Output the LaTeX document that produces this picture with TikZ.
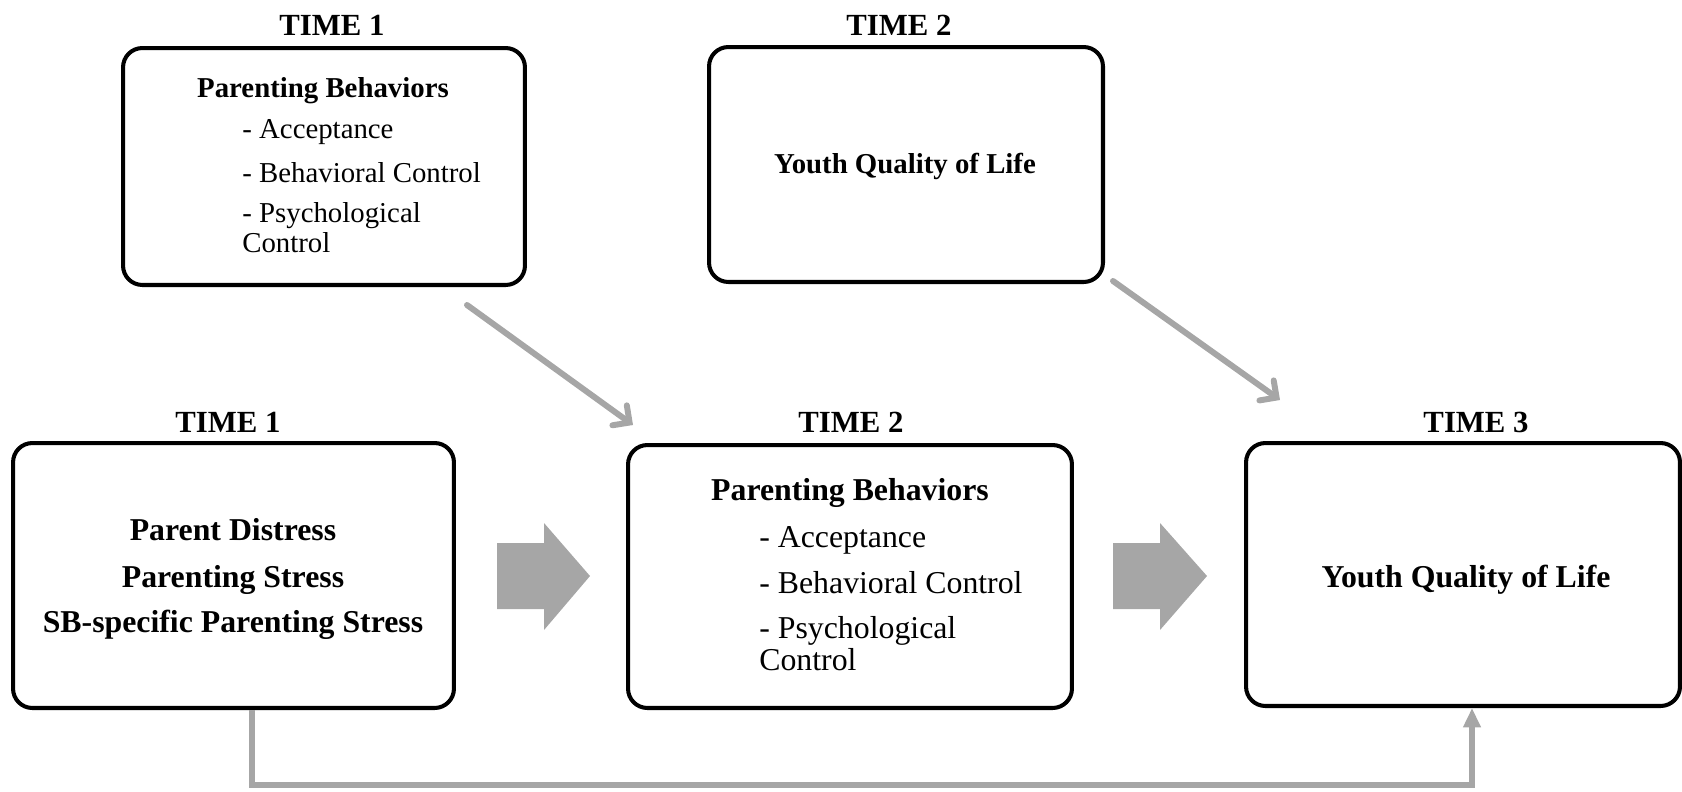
\documentclass[tikz,border=0pt]{standalone}
\usepackage{fontspec}
\setmainfont{Liberation Serif}
\usepackage{xcolor}
\usepackage{tikz}
\usetikzlibrary{calc,positioning,arrows.meta}
\definecolor{arrowgray}{RGB}{166,166,166}

\begin{document}
\begin{tikzpicture}[x=0.02cm,y=-0.02cm,
	box/.style={draw,line width=2.3pt,rounded corners=11pt,inner sep=0pt},
	head/.style={font=\fontsize{17.5}{20}\selectfont\bfseries,anchor=base,inner sep=0pt},
	bigb/.style={font=\fontsize{18.1}{21}\selectfont\bfseries,anchor=base,inner sep=0pt},
	bigr/.style={font=\fontsize{18.1}{21}\selectfont,anchor=base west,inner sep=0pt},
	smallb/.style={font=\fontsize{16.4}{19}\selectfont\bfseries,anchor=base,inner sep=0pt},
	smallr/.style={font=\fontsize{16.4}{19}\selectfont,anchor=base west,inner sep=0pt},
	link/.style={draw=arrowgray,line width=3.4pt,line cap=round},
	blockarrow/.style={fill=arrowgray}]
\useasboundingbox (0,0) rectangle (1682,791);

% top row
\node[box,minimum width=8.04cm,minimum height=4.74cm] (pbtop) at (324,166.5) {};
\node[box,minimum width=7.88cm,minimum height=4.70cm] (yqtop) at (906,164.5) {};
\node[head] (t1top) at (332,35) {TIME 1};
\node[head] (t2top) at (899,35) {TIME 2};

\node[smallb] (pbtoph) at (323,97) {Parenting Behaviors};
\node[smallr] (pbtopa) at (242,138) {- Acceptance};
\node[smallr] (pbtopb) at (242,182) {- Behavioral Control};
\node[smallr] (pbtopc) at (242,222) {- Psychological};
\node[smallr] (pbtopd) at (242,252) {Control};
\node[smallb] (yqtoph) at (905,173) {Youth Quality of Life};

% bottom row
\node[box,minimum width=8.82cm,minimum height=5.30cm] (dist) at (233.5,575.5) {};
\node[box,minimum width=8.88cm,minimum height=5.26cm] (pbmid) at (850,576.5) {};
\node[box,minimum width=8.68cm,minimum height=5.26cm] (yqend) at (1463,574.5) {};
\node[head] (t1bot) at (228,432) {TIME 1};
\node[head] (t2bot) at (851,432) {TIME 2};
\node[head] (t3bot) at (1476,432) {TIME 3};

\node[bigb] (dista) at (233,540) {Parent Distress};
\node[bigb] (distb) at (233,587) {Parenting Stress};
\node[bigb] (distc) at (233,632) {SB-specific Parenting Stress};

\node[bigb] (pbmidh) at (850,500) {Parenting Behaviors};
\node[bigr] (pbmida) at (759,547) {- Acceptance};
\node[bigr] (pbmidb) at (759,593) {- Behavioral Control};
\node[bigr] (pbmidc) at (759,638) {- Psychological};
\node[bigr] (pbmidd) at (759,670) {Control};

\node[bigb] (yqendh) at (1466,587) {Youth Quality of Life};

% block arrows
\fill[blockarrow] (497,543) -- (544,543) -- (544,523) -- (590,576) -- (544,630) -- (544,609) -- (497,609) -- cycle;
\fill[blockarrow] (1113,543) -- (1160,543) -- (1160,523) -- (1207,576) -- (1160,630) -- (1160,609) -- (1113,609) -- cycle;

% diagonal arrows
\coordinate (d1s) at (467,305);
\coordinate (d1e) at (633,425);
\coordinate (d2s) at (1113,281);
\coordinate (d2e) at (1280,400);
\draw[link,-{Straight Barb[length=7pt,width=14pt,line cap=round]}] (d1s) -- (d1e);
\draw[link,-{Straight Barb[length=7pt,width=14pt,line cap=round]}] (d2s) -- (d2e);

% time 1 -> time 3
\draw[link,line cap=butt,-{Triangle[length=11pt,width=9.5pt]}] ($(dist.south)+(18.5,0)$) -- ++(0,75) -| ($(yqend.south)+(9,0)$);

\end{tikzpicture}
\end{document}
